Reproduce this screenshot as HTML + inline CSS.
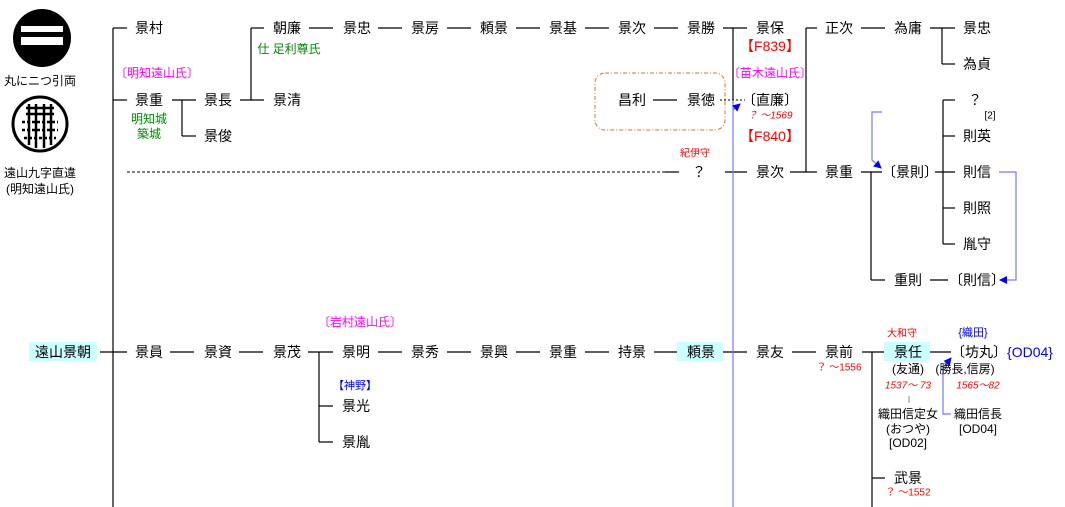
<!DOCTYPE html>
<html><head><meta charset="utf-8"><style>
body{margin:0;background:#fff;}
svg{display:block;font-family:"Liberation Sans","Noto Sans CJK JP",sans-serif;}
text{dominant-baseline:central;text-anchor:middle;}
.n{font-size:14px;fill:#000;}
.r{font-size:10px;fill:#f00;}
.ri{font-size:10px;fill:#f00;font-style:italic;}
.g{font-size:12px;fill:#080;}
.m{font-size:12px;fill:#f0f;}
.b{font-size:11px;fill:#00f;}
</style></head><body>
<svg width="1065" height="507" viewBox="0 0 1065 507">
<defs><marker id="ar" markerWidth="8" markerHeight="8" refX="7" refY="4" orient="auto" markerUnits="userSpaceOnUse"><path d="M0,0 L8,4 L0,8 z" fill="#00f"/></marker></defs>
<!-- crests -->
<circle cx="42" cy="38" r="29" fill="#000"/>
<rect x="21" y="26" width="42" height="6" fill="#fff"/>
<rect x="21" y="37" width="42" height="8" fill="#fff"/>
<text class="n" x="40" y="81" style="font-size:12px">丸にニつ引両</text>
<circle cx="40" cy="124" r="27" fill="none" stroke="#000" stroke-width="3"/>
<g stroke="#000" stroke-width="2.5">
<line x1="26" y1="108" x2="54" y2="108"/><line x1="26" y1="114" x2="54" y2="114"/>
<line x1="22" y1="122" x2="58" y2="122" stroke-dasharray="3 2"/><line x1="22" y1="130" x2="58" y2="130" stroke-dasharray="3 2"/>
<line x1="24" y1="138" x2="56" y2="138" stroke-dasharray="3 2"/>
<line x1="29" y1="104" x2="29" y2="145"/><line x1="36" y1="104" x2="36" y2="148"/>
<line x1="44" y1="104" x2="44" y2="148"/><line x1="51" y1="104" x2="51" y2="145"/>
</g>
<text class="n" x="40" y="173" style="font-size:12px">遠山九字直違</text>
<text class="n" x="40" y="189" style="font-size:12px">(明知遠山氏)</text>

<g stroke="#000" stroke-width="1.2" fill="none">
<line x1="113" y1="28" x2="113" y2="507"/>
<line x1="113" y1="28" x2="127" y2="28"/>
<line x1="113" y1="100" x2="127" y2="100"/>
<line x1="100" y1="352" x2="127" y2="352"/>
<!-- row 100 -->
<line x1="172" y1="100" x2="196" y2="100"/><line x1="182" y1="100" x2="182" y2="136"/><line x1="182" y1="136" x2="196" y2="136"/>
<line x1="240" y1="100" x2="264" y2="100"/><line x1="251" y1="28" x2="251" y2="100"/><line x1="251" y1="28" x2="264" y2="28"/>
<!-- row 28 -->
<line x1="309" y1="28" x2="333" y2="28"/><line x1="378" y1="28" x2="402" y2="28"/><line x1="447" y1="28" x2="471" y2="28"/>
<line x1="516" y1="28" x2="540" y2="28"/><line x1="585" y1="28" x2="609" y2="28"/><line x1="654" y1="28" x2="678" y2="28"/>
<line x1="723" y1="28" x2="747" y2="28"/><line x1="733" y1="28" x2="733" y2="100"/>
<line x1="806" y1="28" x2="806" y2="172"/><line x1="806" y1="28" x2="817" y2="28"/><line x1="790" y1="172" x2="817" y2="172"/>
<line x1="861" y1="28" x2="885" y2="28"/><line x1="930" y1="28" x2="955" y2="28"/><line x1="942" y1="28" x2="942" y2="64"/><line x1="942" y1="64" x2="955" y2="64"/>
<!-- 昌利 -->
<line x1="653" y1="100" x2="677" y2="100"/>
<!-- row 172 -->
<line x1="665" y1="172" x2="679" y2="172"/><line x1="725" y1="172" x2="747" y2="172"/>
<line x1="861" y1="172" x2="882" y2="172"/><line x1="871" y1="172" x2="871" y2="280"/><line x1="871" y1="280" x2="885" y2="280"/>
<line x1="935" y1="172" x2="955" y2="172"/><line x1="943" y1="100" x2="943" y2="244"/>
<line x1="943" y1="100" x2="955" y2="100"/><line x1="943" y1="136" x2="955" y2="136"/><line x1="943" y1="208" x2="955" y2="208"/><line x1="943" y1="244" x2="955" y2="244"/>
<line x1="930" y1="280" x2="948" y2="280"/>
<!-- row 352 -->
<line x1="170" y1="352" x2="194" y2="352"/><line x1="239" y1="352" x2="263" y2="352"/><line x1="308" y1="352" x2="333" y2="352"/>
<line x1="319" y1="352" x2="319" y2="442"/><line x1="319" y1="406" x2="333" y2="406"/><line x1="319" y1="442" x2="333" y2="442"/>
<line x1="378" y1="352" x2="402" y2="352"/><line x1="447" y1="352" x2="471" y2="352"/><line x1="516" y1="352" x2="540" y2="352"/>
<line x1="585" y1="352" x2="609" y2="352"/><line x1="654" y1="352" x2="677" y2="352"/><line x1="723" y1="352" x2="747" y2="352"/>
<line x1="792" y1="352" x2="816" y2="352"/><line x1="862" y1="352" x2="884" y2="352"/><line x1="872" y1="352" x2="872" y2="507"/><line x1="872" y1="478" x2="885" y2="478"/>
<line x1="930" y1="352" x2="951" y2="352"/>
</g>
<line x1="127" y1="172" x2="665" y2="172" stroke="#000" stroke-dasharray="3 2"/>
<line x1="720" y1="100" x2="745" y2="100" stroke="#000" stroke-dasharray="2 2"/>
<line x1="909" y1="396" x2="909" y2="403" stroke="#888"/>
<rect x="595" y="73" width="130" height="57" rx="10" fill="none" stroke="#e07020" stroke-dasharray="4 2 1 2"/>
<!-- blue -->
<g stroke="#77f" fill="none" stroke-width="1.2">
<line x1="733" y1="100" x2="733" y2="507"/>
<path d="M733,110 L740,104" marker-end="url(#ar)"/>
<path d="M882,112 L872,112 L872,160 L881,168" marker-end="url(#ar)"/>
<path d="M999,172 L1016,172 L1016,280 L1000,280" marker-end="url(#ar)"/>
<path d="M951,414 L943,414 L943,368 L951,358" marker-end="url(#ar)"/>
</g>
<!-- highlights -->
<rect x="29" y="342" width="68" height="19" fill="#ccffff"/>
<rect x="677" y="342" width="46" height="19" fill="#ccffff"/>
<rect x="884" y="342" width="46" height="19" fill="#ccffff"/>
<!-- names -->
<g class="n">
<text x="149" y="28">景村</text><text x="287" y="28">朝廉</text><text x="357" y="28">景忠</text><text x="425" y="28">景房</text>
<text x="494" y="28">頼景</text><text x="563" y="28">景基</text><text x="632" y="28">景次</text><text x="701" y="28">景勝</text>
<text x="770" y="28">景保</text><text x="839" y="28">正次</text><text x="908" y="28">為庸</text><text x="977" y="28">景忠</text>
<text x="977" y="64">為貞</text>
<text x="149" y="100">景重</text><text x="218" y="100">景長</text><text x="287" y="100">景清</text><text x="218" y="136">景俊</text>
<text x="632" y="100">昌利</text><text x="701" y="100">景徳</text><text x="770" y="100">〔直廉〕</text>
<text x="975" y="100">？</text><text x="977" y="136">則英</text><text x="977" y="172">則信</text><text x="977" y="208">則照</text><text x="977" y="244">胤守</text>
<text x="699" y="172">？</text><text x="770" y="172">景次</text><text x="839" y="172">景重</text><text x="910" y="172">〔景則〕</text>
<text x="908" y="280">重則</text><text x="977" y="280">〔則信〕</text>
<text x="63" y="352">遠山景朝</text><text x="149" y="352">景員</text><text x="218" y="352">景資</text><text x="287" y="352">景茂</text>
<text x="356" y="352">景明</text><text x="425" y="352">景秀</text><text x="494" y="352">景興</text><text x="563" y="352">景重</text>
<text x="632" y="352">持景</text><text x="701" y="352">頼景</text><text x="770" y="352">景友</text><text x="839" y="352">景前</text>
<text x="908" y="352">景任</text><text x="979" y="352">〔坊丸〕</text>
<text x="356" y="406">景光</text><text x="356" y="442">景胤</text><text x="908" y="478">武景</text>
</g>
<g class="n" style="font-size:12px">
<text x="990" y="116" style="font-size:10px">[2]</text>
<text x="908" y="369">(友通)</text><text x="908" y="414">織田信定女</text><text x="908" y="429">(おつや)</text><text x="908" y="443">[OD02]</text>
<text x="965" y="369">(勝長,信房)</text><text x="978" y="414">織田信長</text><text x="978" y="429">[OD04]</text>
</g>
<text class="b" x="1030" y="352" style="font-size:14px">{OD04}</text>
<text class="b" x="973" y="333">{織田}</text>
<text class="b" x="355" y="386">【神野】</text>
<text class="g" x="149" y="119">明知城</text><text class="g" x="149" y="134">築城</text>
<text class="g" x="289" y="49">仕 足利尊氏</text>
<text class="m" x="157" y="73">〔明知遠山氏〕</text>
<text class="m" x="770" y="73">〔苗木遠山氏〕</text>
<text class="m" x="360" y="322">〔岩村遠山氏〕</text>
<text class="r" x="770" y="46" style="font-size:14px">【F839】</text>
<text class="r" x="770" y="136" style="font-size:14px">【F840】</text>
<text class="ri" x="770" y="116">？ ～1569</text>
<text class="r" x="695" y="154">紀伊守</text>
<text class="r" x="839" y="368">？ ～1556</text>
<text class="r" x="902" y="334">大和守</text>
<text class="ri" x="908" y="386">1537～ 73</text>
<text class="ri" x="978" y="386">1565～82</text>
<text class="r" x="908" y="493">？ ～1552</text>
</svg>
</body></html>
